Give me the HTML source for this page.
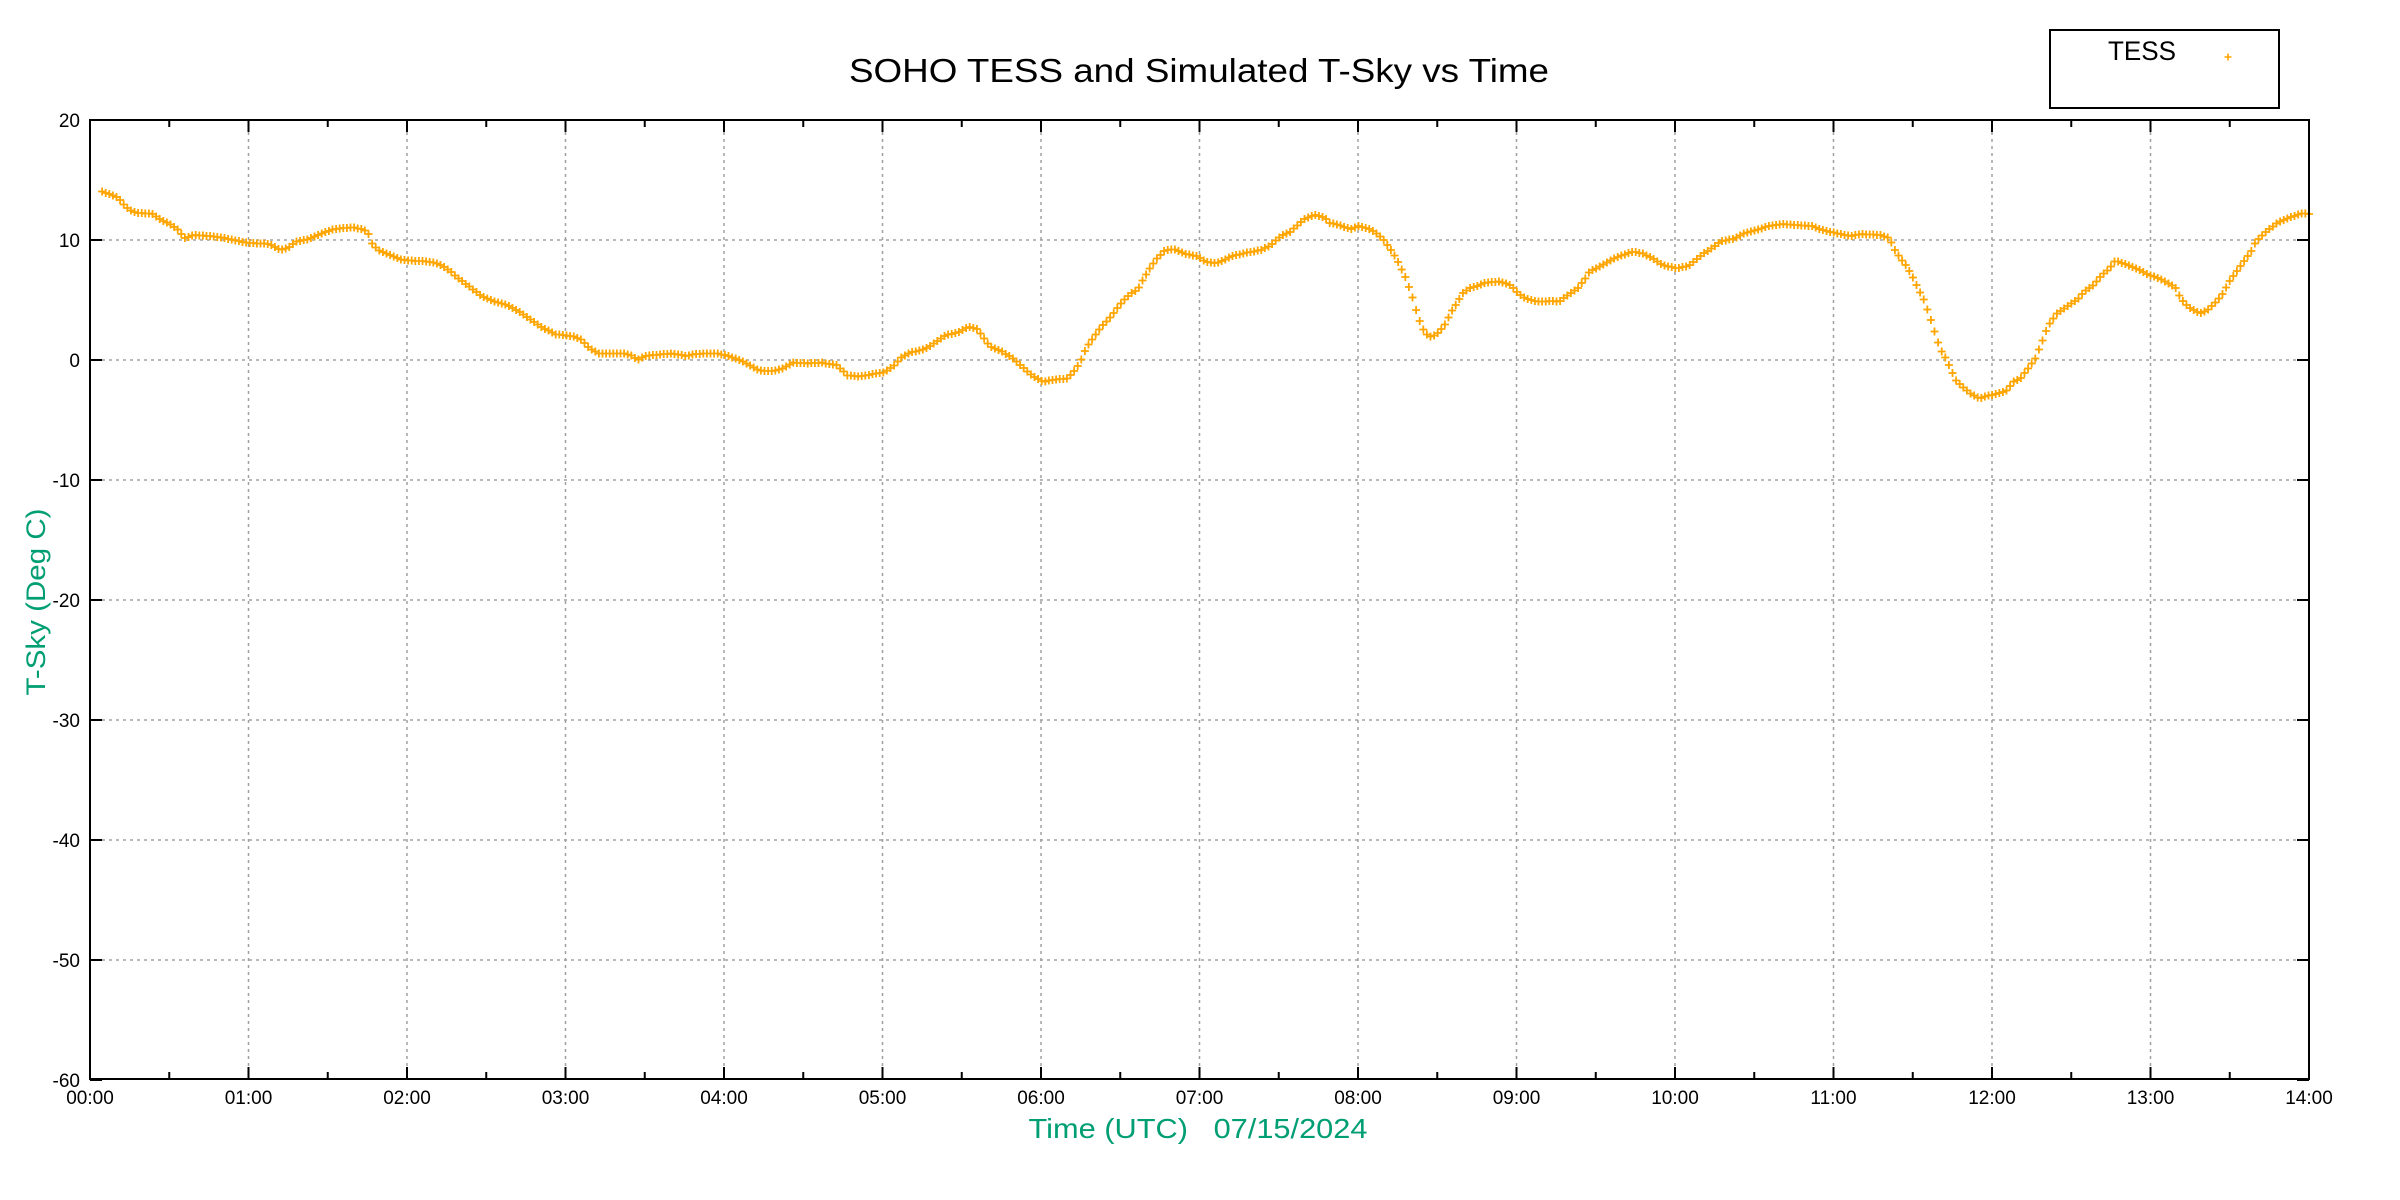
<!DOCTYPE html>
<html><head><meta charset="utf-8"><style>
html,body{margin:0;padding:0;background:#fff;}
svg{display:block;}
text{font-family:"Liberation Sans",sans-serif;}
</style></head><body>
<svg id="s" width="2400" height="1200" viewBox="0 0 2400 1200" xmlns="http://www.w3.org/2000/svg">
<rect width="2400" height="1200" fill="#fff"/>
<g id="grid" stroke="#a0a0a0" stroke-width="1.5" stroke-dasharray="3,4" fill="none"></g>
<g id="ticks" stroke="#000" stroke-width="2" fill="none"></g>
<path id="data" stroke="#ffa500" stroke-width="1.8" fill="none"/>
<rect x="90" y="120" width="2219" height="959" fill="none" stroke="#000" stroke-width="2"/>
<g id="labels" font-size="19" fill="#000"></g>
<text x="1199" y="82" font-size="33" text-anchor="middle" textLength="700" lengthAdjust="spacingAndGlyphs">SOHO TESS and Simulated T-Sky vs Time</text>
<text x="1198" y="1138" font-size="28" fill="#009e73" text-anchor="middle" textLength="339" lengthAdjust="spacingAndGlyphs" xml:space="preserve">Time (UTC)   07/15/2024</text>
<text transform="translate(45,602) rotate(-90)" font-size="27" fill="#009e73" text-anchor="middle" textLength="187" lengthAdjust="spacingAndGlyphs">T-Sky (Deg C)</text>
<rect x="2050" y="30" width="229" height="78" fill="#fff" stroke="#000" stroke-width="2"/>
<text x="2108" y="60" font-size="27" textLength="68" lengthAdjust="spacingAndGlyphs">TESS</text>
<path d="M2224.5 57h7M2228 53.5v7" stroke="#ffa500" stroke-width="1.6"/>
</svg>
<script>
var L=90,R=2309,T=120,B=1079,H=(R-L)/14;
var g=document.getElementById('grid'),tk=document.getElementById('ticks'),lb=document.getElementById('labels');
var gd='',td='',lt='';
function yv(v){return 360-v*12;}
for(var i=0;i<=14;i++){var x=L+i*H;
 if(i>0&&i<14){gd+='M'+x+' '+(T+12)+'V'+(B-12);}
 td+='M'+x+' '+B+'v-12M'+x+' '+T+'v12';
 if(i<14){var xm=x+H/2;td+='M'+xm+' '+B+'v-7M'+xm+' '+T+'v7';}
 var h=(i<10?'0':'')+i+':00';
 lt+='<text x="'+x+'" y="1104" text-anchor="middle">'+h+'</text>';}
for(var v=20;v>=-60;v-=10){var y=yv(v);
 if(v<20&&v>-60){gd+='M'+(L+12)+' '+y+'H'+(R-12);}
 td+='M'+L+' '+y+'h12M'+R+' '+y+'h-12';
 lt+='<text x="80" y="'+(y+7)+'" text-anchor="end">'+v+'</text>';}
g.innerHTML='<path d="'+gd+'"/>';tk.innerHTML='<path d="'+td+'"/>';lb.innerHTML=lt;
var z=[[90,[25,65,45,75,60,85,70,105,80,118,95,128,130,132,145,148,165,162,185,182,193,205,215,195,260,200,290,208,320,218,370,222,393,240,410,232,425,215,450,208,480,190,500,178,540,172,565,178,575,192,580,218,595,240,620,255,645,270,700,275,720,282,740,300,760,325,790,358,810,380,830,392,860,405,880,420,900,440,930,470,960,493,995,498,1015,510,1030,535,1050,550,1100,550,1115,555,1130,570,1145,558,1200,550,1230,558,1250,552,1290,550,1310,555,1340,570,1360,585,1380,602,1410,603,1430,595,1450,578,1480,580,1510,578,1540,585,1555,605]],
[830,[0,580,20,590,30,615,60,620,90,612,110,608,130,590,145,565,165,548,195,538,220,515,240,495,265,487,285,470,305,478,315,500,330,530,355,545,380,568,400,595,420,620,440,635,460,630,490,625,505,600,515,580,530,530,545,500,560,470,580,440,600,400,620,370,635,360,645,330,660,295,675,265,690,242,710,238,730,250,760,260,775,275,795,280,810,272,830,258,860,248,890,240,910,225,930,198,950,185,965,165,980,145,1000,135,1020,142,1030,158,1050,165,1075,178,1090,168,1110,175,1125,188,1140,205,1150,225,1160,245,1170,270,1180,300,1190,330,1195,355,1200,375,1205,398,1210,425,1215,445,1220,468,1228,490,1240,500,1250,495,1260,480,1270,460,1280,430,1295,395,1305,370,1320,355,1340,345,1355,337,1380,335,1400,342,1410,355,1420,370,1435,385,1460,395,1490,393,1505,395,1515,382,1530,368,1545,352,1555,330]],
[1570,[0,370,10,360,20,345,30,330,40,305,55,295,75,278,95,262,130,245,150,250,170,265,190,285,220,295,245,288,260,270,275,250,290,238,310,215,340,205,360,190,390,178,410,168,440,162,460,165,500,168,520,180,550,190,580,198,600,192,640,195,660,205,665,228,680,262,695,290,710,330,720,360,730,390,740,430,748,465,755,500,765,540,775,565,785,595,795,630,810,650,825,670,845,685,860,678,880,672,900,662,915,635,930,625,940,605,950,585,960,565,970,530,980,490,990,460,1005,430,1020,415,1035,400,1050,385,1060,365,1080,345,1095,318,1110,300,1125,272,1150,285,1175,300,1195,315,1215,325,1235,340,1250,355,1260,385,1275,410,1300,430,1315,420,1330,400,1345,375,1360,335,1375,305,1390,275,1405,245,1415,215,1440,180,1460,158,1490,140,1510,130,1525,132]]];
var P=[];
z.forEach(function(s){var a=s[1];for(var k=0;k<a.length;k+=2){var X=s[0]+a[k]/2.063,Y=170+a[k+1]/3;if(!P.length||X>P[P.length-1][0])P.push([X,Y]);}});
var d='',j=0;
for(var x=P[0][0];x<=P[P.length-1][0]+0.01;x+=3.6){
 while(j<P.length-2&&P[j+1][0]<x)j++;
 var a=P[j],b=P[j+1],t=Math.max(0,Math.min(1,(x-a[0])/(b[0]-a[0]))),y=a[1]+t*(b[1]-a[1]);
 y=Math.round(y*2)/2;
 d+='M'+(x-4).toFixed(1)+' '+y+'h8M'+x.toFixed(1)+' '+(y-4)+'v8';}
document.getElementById('data').setAttribute('d',d);
</script>
</body></html>
